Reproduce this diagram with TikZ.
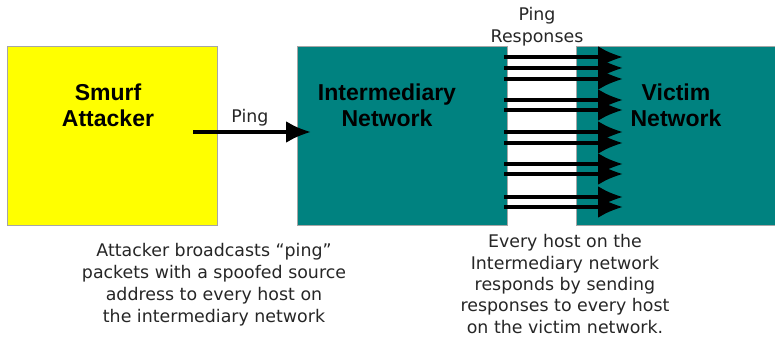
\documentclass[tikz,border=0pt]{standalone}
\usepackage{fontspec}
\usetikzlibrary{arrows.meta}
\newfontfamily\titlefont{Liberation Sans}
\newfontfamily\notefont{DejaVu Sans}
\definecolor{smurfyellow}{RGB}{255,255,0}
\definecolor{netteal}{RGB}{0,130,128}
\tikzset{%
  netbox/.style  = {shape=rectangle, draw=gray!70, line width=0.8pt,%
                    anchor=north west, inner sep=0pt},%
  title/.style   = {align=center, font=\titlefont\bfseries\fontsize{23}{26}\selectfont},%
  note/.style    = {align=center, text=black!85,%
                    font=\notefont\fontsize{17.4}{22}\selectfont},%
  pingarrow/.style = {line width=4pt, -{Latex[length=25pt,width=22pt]}}%
}
\begin{document}
\begin{tikzpicture}[x=1pt,y=-1pt]
	\useasboundingbox (0,0) rectangle (775,337);
	% the three boxes
	\node [netbox, fill=smurfyellow, minimum width=210pt, minimum height=179pt] (attacker) at (7,46) {};
	\node [netbox, fill=netteal, minimum width=210pt, minimum height=179pt] (inter) at (297,46) {};
	\node [netbox, fill=netteal, minimum width=200pt, minimum height=179pt] (victim) at (576,46) {};
	\node [title] (attackername) at (108,105) {Smurf\\Attacker};
	\node [title] (intername) at (387,105) {Intermediary\\Network};
	\node [title] (victimname) at (676,105) {Victim\\Network};
	% ping
	\coordinate (pingfrom) at (193,132);
	\coordinate (pingto) at (311,132);
	\draw [pingarrow] (pingfrom) -- (pingto);
	\node [note, anchor=south] (pinglabel) at (250,130) {Ping};
	% responses
	\foreach \i/\y in {1/57,2/68,3/79,4/100,5/110,6/132,7/143,8/164,9/174,10/197,11/207}{
		\coordinate (from\i) at (504,\y);
		\coordinate (to\i) at (623,\y);
		\draw [pingarrow] (from\i) -- (to\i);
	}
	\node [note, anchor=south] (resplabel) at (537,50) {Ping\\Responses};
	% notes below
	\node [note, anchor=north] (attackernote) at (214,240)
		{Attacker broadcasts “ping”\\packets with a spoofed source\\address to every host on\\the intermediary network};
	\node [note, anchor=north, font=\notefont\fontsize{17.4}{21.4}\selectfont] (internote) at (565,231)
		{Every host on the\\Intermediary network\\responds by sending\\responses to every host\\on the victim network.};
\end{tikzpicture}
\end{document}
